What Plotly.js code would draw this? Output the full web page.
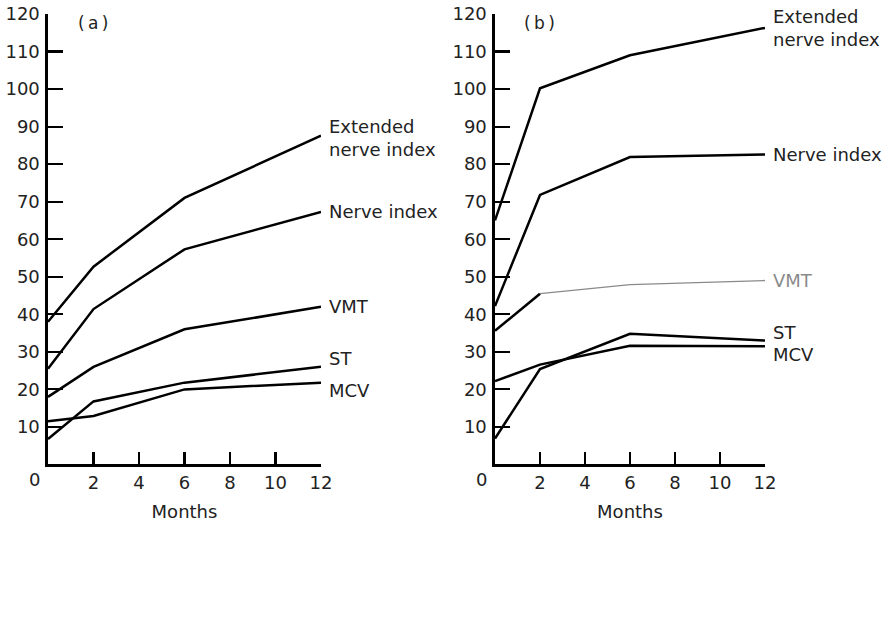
<!DOCTYPE html>
<html>
<head>
<meta charset="utf-8">
<script src="https://cdn.plot.ly/plotly-3.0.1.min.js"></script>
<style>html,body{margin:0;padding:0;background:#fff;}#chart{width:893px;height:628px;}</style>
</head>
<body>
<div id="chart"></div>
<script>
// ---- data ----
const monthTicks = ['0', '2', '4', '6', '8', '10', '12'];
const monthTickText = ['', '2', '4', '6', '8', '10', '12'];
const months = ['0', '2', '6', '12'];
const seriesNames = ['Extended<br>nerve index', 'Nerve index', 'VMT', 'ST', 'MCV'];
const panelLabels = ['(\u2009a\u2009)', '(\u2009b\u2009)'];
const yTicks = [10, 20, 30, 40, 50, 60, 70, 80, 90, 100, 110, 120];

// panel (a)
const aExtended = [38, 52.7, 71, 87.6];
const aNerve = [25.5, 41.4, 57.3, 67.3];
const aVMT = [18, 26, 36, 42];
const aST = [6.8, 16.8, 21.8, 26];
const aMCV = [11.5, 12.9, 20, 21.8];

// panel (b)
const bExtended = [65, 100.2, 109, 116.3];
const bNerve = [42.2, 71.8, 81.9, 82.6];
const bVMT = [35.6, 45.5, 47.9, 49];
const bST = [6.9, 25.4, 34.8, 33];
const bMCV = [22.2, 26.6, 31.6, 31.5];

// ---- styles ----
const FONT = 'DejaVu Sans, Liberation Sans, sans-serif';
const TXT = '#222';
const lineBlack = {color: '#000', width: 2.5};
const lineGray = {color: '#8a8a8a', width: 1.3};

function tr(x, y, xa, ya, line) {
  return {x: x, y: y, xaxis: xa, yaxis: ya, type: 'scatter', mode: 'lines',
          line: line, hoverinfo: 'skip', showlegend: false};
}

const data = [
  tr(months, aExtended, 'x', 'y', lineBlack),
  tr(months, aNerve, 'x', 'y', lineBlack),
  tr(months, aVMT, 'x', 'y', lineBlack),
  tr(months, aST, 'x', 'y', lineBlack),
  tr(months, aMCV, 'x', 'y', lineBlack),
  tr(months, bExtended, 'x2', 'y2', lineBlack),
  tr(months, bNerve, 'x2', 'y2', lineBlack),
  tr(months.slice(1), bVMT.slice(1), 'x2', 'y2', lineGray),
  tr(months.slice(0, 2), bVMT.slice(0, 2), 'x2', 'y2', lineBlack),
  tr(months, bST, 'x2', 'y2', lineBlack),
  tr(months, bMCV, 'x2', 'y2', lineBlack)
];

function xAxis(domain, anchor) {
  return {
    type: 'category', categoryorder: 'array', categoryarray: monthTicks,
    range: [0, 6], domain: domain, anchor: anchor,
    tickmode: 'array', tickvals: monthTicks, ticktext: monthTickText,
    ticks: 'inside', ticklen: 12, tickwidth: 2.2, tickcolor: '#000',
    showline: true, linewidth: 2.6, linecolor: '#000',
    showgrid: false, zeroline: false,
    tickfont: {family: FONT, size: 18, color: TXT},
    title: {text: 'Months', font: {family: FONT, size: 18, color: TXT}, standoff: 14},
    fixedrange: true
  };
}
function yAxis(anchor) {
  return {
    range: [0, 120], domain: [0.2604, 0.9777], anchor: anchor,
    tickmode: 'array', tickvals: yTicks,
    ticks: 'inside', ticklen: 15, tickwidth: 2.2, tickcolor: '#000',
    showline: true, linewidth: 2.6, linecolor: '#000',
    showgrid: false, zeroline: false,
    tickfont: {family: FONT, size: 18, color: TXT},
    ticklabelstandoff: 2,
    fixedrange: true
  };
}

// category index helper (annotations on category axes take the index)
const idx = m => monthTicks.indexOf(m);
const lastMonth = months[months.length - 1];

const aEnds = [aExtended, aNerve, aVMT, aST, aMCV].map(s => s[s.length - 1]);
const bEnds = [bExtended, bNerve, bVMT, bST, bMCV].map(s => s[s.length - 1]);
const aShift = [-2, 0, 0, 8, -8];
const bShift = [0, 0, 0, 8, -8];
const labelColorsB = [TXT, TXT, '#8a8a8a', TXT, TXT];

const annotations = [];
seriesNames.forEach((name, i) => {
  annotations.push({x: idx(lastMonth), y: aEnds[i], xref: 'x', yref: 'y', text: name, showarrow: false,
    xanchor: 'left', yanchor: 'middle', align: 'left', xshift: 6, yshift: aShift[i],
    font: {family: FONT, size: 18, color: TXT}});
  annotations.push({x: idx(lastMonth), y: bEnds[i], xref: 'x2', yref: 'y2', text: name, showarrow: false,
    xanchor: 'left', yanchor: 'middle', align: 'left', xshift: 6, yshift: bShift[i],
    font: {family: FONT, size: 18, color: labelColorsB[i]}});
});
// panel letters
annotations.push({x: idx('2'), y: 117.5, xref: 'x', yref: 'y', text: panelLabels[0], showarrow: false,
  font: {family: FONT, size: 17, color: TXT}});
annotations.push({x: idx('2'), y: 117.5, xref: 'x2', yref: 'y2', text: panelLabels[1], showarrow: false,
  font: {family: FONT, size: 17, color: TXT}});
// origin "0" labels (set slightly left of the axis, as in the original)
annotations.push({x: idx('0'), y: 0, xref: 'x', yref: 'y', text: monthTicks[0], showarrow: false,
  xshift: -13, yshift: -15, font: {family: FONT, size: 18, color: TXT}});
annotations.push({x: idx('0'), y: 0, xref: 'x2', yref: 'y2', text: monthTicks[0], showarrow: false,
  xshift: -13, yshift: -15, font: {family: FONT, size: 18, color: TXT}});

const layout = {
  width: 893, height: 628,
  margin: {l: 0, r: 0, t: 0, b: 0},
  paper_bgcolor: '#fff', plot_bgcolor: '#fff',
  showlegend: false,
  xaxis: xAxis([0.05375, 0.35946], 'y'),
  yaxis: yAxis('x'),
  xaxis2: xAxis([0.55431, 0.85666], 'y2'),
  yaxis2: yAxis('x2'),
  annotations: annotations
};

Plotly.newPlot('chart', data, layout, {staticPlot: true, displayModeBar: false});
</script>
</body>
</html>
